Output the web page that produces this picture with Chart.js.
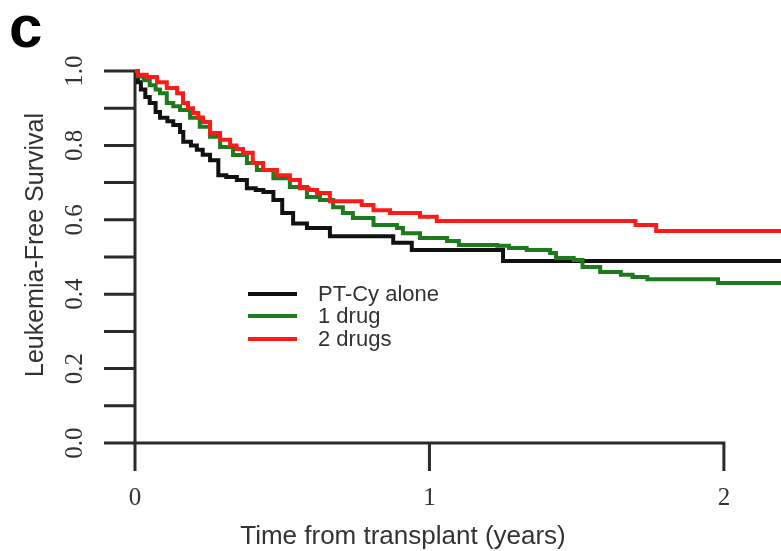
<!DOCTYPE html>
<html>
<head>
<meta charset="utf-8">
<title>Leukemia-Free Survival</title>
<script src="https://cdn.jsdelivr.net/npm/chart.js@4/dist/chart.umd.min.js"></script>
<style>
    html, body { margin: 0; padding: 0; background: #ffffff; }
    #lfsChart { display: block; }
</style>
</head>
<body>
<canvas id="lfsChart" width="781" height="551"></canvas>
<script>
// Kaplan-Meier step points: time (years) and survival after each drop
const aloneTimes = [0, 0.01, 0.02, 0.035, 0.05, 0.07, 0.085, 0.11, 0.13, 0.153, 0.164, 0.19, 0.21, 0.23, 0.255, 0.283, 0.31, 0.346, 0.38, 0.41, 0.436, 0.47, 0.5, 0.537, 0.584, 0.662, 0.877, 0.94, 1.25, 2.25];
const aloneSurv  = [1.0, 0.97, 0.95, 0.93, 0.914, 0.89, 0.874, 0.865, 0.855, 0.836, 0.81, 0.80, 0.788, 0.775, 0.76, 0.72, 0.715, 0.707, 0.685, 0.68, 0.675, 0.653, 0.618, 0.59, 0.578, 0.556, 0.538, 0.519, 0.489, 0.489];

const oneDrugTimes = [0, 0.01, 0.03, 0.05, 0.07, 0.085, 0.108, 0.13, 0.153, 0.187, 0.22, 0.255, 0.289, 0.333, 0.38, 0.414, 0.47, 0.526, 0.584, 0.628, 0.673, 0.706, 0.74, 0.81, 0.89, 0.91, 0.968, 1.06, 1.10, 1.23, 1.27, 1.33, 1.41, 1.43, 1.49, 1.52, 1.58, 1.65, 1.69, 1.74, 1.98, 2.25];
const oneDrugSurv  = [1.0, 0.985, 0.975, 0.962, 0.95, 0.94, 0.914, 0.905, 0.895, 0.874, 0.85, 0.823, 0.796, 0.774, 0.753, 0.734, 0.712, 0.688, 0.661, 0.653, 0.634, 0.618, 0.605, 0.586, 0.578, 0.564, 0.551, 0.543, 0.532, 0.53, 0.524, 0.519, 0.511, 0.497, 0.492, 0.473, 0.46, 0.452, 0.446, 0.44, 0.43, 0.43];

const twoDrugTimes = [0, 0.01, 0.04, 0.075, 0.108, 0.143, 0.163, 0.18, 0.197, 0.215, 0.231, 0.255, 0.289, 0.323, 0.345, 0.367, 0.40, 0.435, 0.482, 0.526, 0.56, 0.59, 0.618, 0.662, 0.77, 0.81, 0.866, 0.968, 1.025, 1.70, 1.77, 2.25];
const twoDrugSurv  = [1.0, 0.99, 0.984, 0.97, 0.954, 0.94, 0.914, 0.9, 0.887, 0.875, 0.863, 0.833, 0.815, 0.80, 0.79, 0.78, 0.753, 0.734, 0.72, 0.707, 0.685, 0.68, 0.672, 0.65, 0.64, 0.626, 0.618, 0.608, 0.597, 0.586, 0.57, 0.57];

const groupLabels = ['PT-Cy alone', '1 drug', '2 drugs'];
const groupColors = ['#111111', '#1d7a1d', '#ff1a1a'];

const xTicks = [0, 1, 2];
const yTicks = [0, 0.1, 0.2, 0.3, 0.4, 0.5, 0.6, 0.7, 0.8, 0.9, 1.0];
const yTickLabels = ['0.0', '', '0.2', '', '0.4', '', '0.6', '', '0.8', '', '1.0'];

const toPoints = (times, surv) => times.map((t, i) => ({ x: t, y: surv[i] }));

// R-style axes, labels and legend drawn against the chart scales
const baseGraphics = {
    id: 'baseGraphics',
    beforeDatasetsDraw(chart) {
        const { ctx, scales: { x, y } } = chart;
        const x0 = x.getPixelForValue(0);
        const y0 = y.getPixelForValue(0);
        ctx.save();
        ctx.strokeStyle = '#2a2a2a';
        ctx.lineWidth = 3;
        ctx.lineCap = 'butt';

        // y axis line plus ticks
        ctx.beginPath();
        ctx.moveTo(x0, y.getPixelForValue(1));
        ctx.lineTo(x0, y0);
        yTicks.forEach(v => {
            const py = y.getPixelForValue(v);
            ctx.moveTo(x0 - 31, py);
            ctx.lineTo(x0, py);
        });
        // x axis line plus ticks
        ctx.moveTo(x0, y0);
        ctx.lineTo(x.getPixelForValue(2) + 1.5, y0);
        xTicks.forEach(v => {
            const px = x.getPixelForValue(v);
            ctx.moveTo(px, y0);
            ctx.lineTo(px, y0 + 28);
        });
        ctx.stroke();
        ctx.restore();
    },
    afterDraw(chart) {
        const { ctx, scales: { x, y } } = chart;
        const x0 = x.getPixelForValue(0);
        const y0 = y.getPixelForValue(0);
        ctx.save();

        // tick labels (serif, like base R)
        ctx.fillStyle = '#333333';
        ctx.font = '25px "Liberation Serif"';
        ctx.textAlign = 'center';
        ctx.textBaseline = 'middle';
        xTicks.forEach(v => ctx.fillText(String(v), x.getPixelForValue(v), y0 + 55));
        yTicks.forEach((v, i) => {
            if (!yTickLabels[i]) return;
            ctx.save();
            ctx.translate(x0 - 60, y.getPixelForValue(v));
            ctx.rotate(-Math.PI / 2);
            ctx.fillText(yTickLabels[i], 0, 0);
            ctx.restore();
        });

        // axis titles
        ctx.font = '26px "Liberation Sans"';
        ctx.fillText('Time from transplant (years)', 403, 537);
        ctx.save();
        ctx.translate(36, 245);
        ctx.rotate(-Math.PI / 2);
        ctx.font = '25px "Liberation Sans"';
        ctx.fillText('Leukemia-Free Survival', 0, 0);
        ctx.restore();

        // panel letter
        ctx.fillStyle = '#000000';
        ctx.font = 'bold 60px "Liberation Sans"';
        ctx.textAlign = 'left';
        ctx.textBaseline = 'alphabetic';
        ctx.fillText('c', 9, 47);

        // legend
        const legendY = [294, 316, 339];
        ctx.lineWidth = 4;
        ctx.font = '22px "Liberation Sans"';
        ctx.textBaseline = 'middle';
        groupLabels.forEach((label, i) => {
            ctx.strokeStyle = groupColors[i];
            ctx.beginPath();
            ctx.moveTo(248, legendY[i]);
            ctx.lineTo(297, legendY[i]);
            ctx.stroke();
            ctx.fillStyle = '#333333';
            ctx.fillText(label, 318, legendY[i] + 1);
        });
        ctx.restore();
    }
};

const series = [
    { label: groupLabels[0], data: toPoints(aloneTimes, aloneSurv), order: 3 },
    { label: groupLabels[1], data: toPoints(oneDrugTimes, oneDrugSurv), order: 2 },
    { label: groupLabels[2], data: toPoints(twoDrugTimes, twoDrugSurv), order: 1 }
];

new Chart(document.getElementById('lfsChart'), {
    type: 'line',
    data: {
        datasets: series.map((s, i) => ({
            ...s,
            borderColor: groupColors[i],
            borderWidth: 4,
            stepped: 'before',
            pointRadius: 0,
            fill: false,
            clip: false
        }))
    },
    options: {
        responsive: false,
        animation: false,
        devicePixelRatio: 1,
        layout: { padding: { left: 135, top: 71, right: 0, bottom: 108 } },
        scales: {
            x: { type: 'linear', min: 0, max: 2.194, display: false },
            y: { type: 'linear', min: 0, max: 1, display: false }
        },
        plugins: {
            legend: { display: false },
            tooltip: { enabled: false }
        }
    },
    plugins: [baseGraphics]
});
</script>
</body>
</html>
